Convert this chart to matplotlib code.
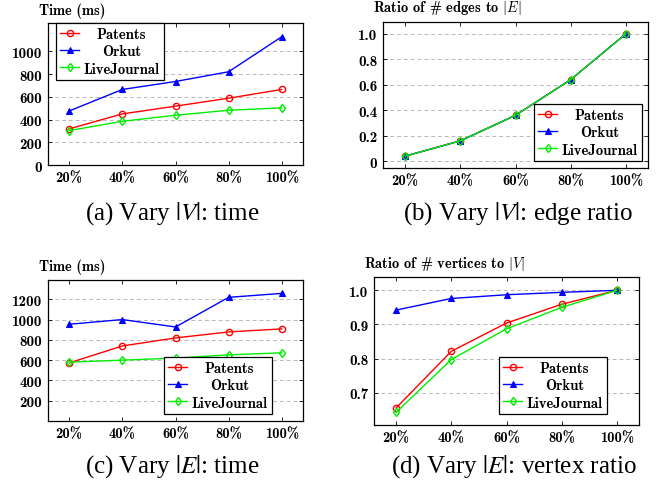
import matplotlib
matplotlib.use("Agg")
import matplotlib.pyplot as plt

# ---- data ----
x_pct = [20, 40, 60, 80, 100]
x_labels = ["20%", "40%", "60%", "80%", "100%"]
series_names = ["Patents", "Orkut", "LiveJournal"]

# (a) vary |V|: time (ms)
a_patents = [318, 450, 518, 588, 665]
a_orkut = [476, 665, 735, 821, 1129]
a_lj = [303, 385, 438, 482, 503]

# (b) vary |V|: edge ratio
b_patents = [0.04, 0.16, 0.36, 0.64, 1.0]
b_orkut = [0.04, 0.16, 0.36, 0.64, 1.0]
b_lj = [0.04, 0.16, 0.36, 0.64, 1.0]

# (c) vary |E|: time (ms)
c_patents = [573, 740, 819, 878, 908]
c_orkut = [954, 1000, 927, 1219, 1258]
c_lj = [580, 600, 620, 652, 672]

# (d) vary |E|: vertex ratio
d_patents = [0.655, 0.821, 0.904, 0.959, 1.0]
d_orkut = [0.942, 0.976, 0.987, 0.994, 1.0]
d_lj = [0.642, 0.797, 0.887, 0.950, 1.0]

W, H = 664, 489
fig = plt.figure(figsize=(W / 100, H / 100), dpi=100)

TICKFONT = "cmb10"
styles = [
    dict(color="#ff0000", marker="o", mfc="none", ms=4.5, mew=1.0),
    dict(color="#0000ff", marker="^", mfc="#0000ff", ms=4.5, mew=0.8),
    dict(color="#00ee00", marker="d", mfc="none", ms=4.5, mew=1.0),
]
legends = []


def make_axes(l, r, t, b):
    return fig.add_axes([l / W, 1 - b / H, (r - l) / W, (b - t) / H])


def panel(ax, ys, ylim, yticks, ylabels, title, title_xy, leg_anchor, caption, cap_xy):
    for y, name, st in zip(ys, series_names, styles):
        ax.plot(x_pct, y, lw=1.0, label=name, **st)
    ax.set_xlim(12, 108)
    ax.set_ylim(*ylim)
    ax.set_xticks(x_pct)
    ax.set_xticklabels(x_labels, fontfamily=TICKFONT, fontsize=10.5)
    ax.set_yticks(yticks)
    ax.set_yticklabels(ylabels, fontfamily=TICKFONT, fontsize=10.8)
    ax.tick_params(direction="in", length=3, width=0.6, top=True, right=True, pad=4)
    ax.yaxis.grid(True, linestyle=(0, (4, 3)), color="#b8b8b8", lw=0.7)
    ax.set_axisbelow(True)
    for sp in ax.spines.values():
        sp.set_linewidth(0.9)
    fig.text(title_xy[0] / W, 1 - title_xy[1] / H, title, fontfamily=TICKFONT,
             fontsize=10.4, math_fontfamily="cm", ha="left", va="center")
    leg = ax.legend(loc="lower right", bbox_to_anchor=(leg_anchor[0] / W, 1 - leg_anchor[1] / H),
                    bbox_transform=fig.transFigure, fancybox=False, edgecolor="black",
                    framealpha=1, borderpad=0.3, handlelength=1.3, handletextpad=0.3,
                    labelspacing=0.22, borderaxespad=0, prop={"family": TICKFONT, "size": 10.6})
    leg.get_frame().set_linewidth(0.9)
    legends.append(leg)
    fig.text(cap_xy[0] / W, 1 - cap_xy[1] / H, caption, fontfamily="Liberation Serif",
             fontsize=18, math_fontfamily="stix", ha="center", va="center")


ax_a = make_axes(48, 303, 24, 166)
panel(ax_a, [a_patents, a_orkut, a_lj], (0, 1250), [0, 200, 400, 600, 800, 1000],
      ["0", "200", "400", "600", "800", "1000"], "Time (ms)", (39, 11), (164, 81),
      r"(a) Vary $|V|$: time", (172, 214))

ax_b = make_axes(383, 648, 23, 169)
panel(ax_b, [b_patents, b_orkut, b_lj], (-0.053, 1.092), [0, 0.2, 0.4, 0.6, 0.8, 1.0],
      ["0", "0.2", "0.4", "0.6", "0.8", "1.0"], r"Ratio of # edges to $|E|$", (373, 8),
      (642, 162), r"(b) Vary $|V|$: edge ratio", (518, 214))

ax_c = make_axes(48, 303, 281, 422)
panel(ax_c, [c_patents, c_orkut, c_lj], (0, 1390), [200, 400, 600, 800, 1000, 1200],
      ["200", "400", "600", "800", "1000", "1200"], "Time (ms)", (39, 267), (272, 415),
      r"(c) Vary $|E|$: time", (172, 467))

ax_d = make_axes(374, 639, 278, 426)
panel(ax_d, [d_patents, d_orkut, d_lj], (0.605, 1.039), [0.7, 0.8, 0.9, 1.0],
      ["0.7", "0.8", "0.9", "1.0"], r"Ratio of # vertices to $|V|$", (364, 264),
      (607, 415), r"(d) Vary $|E|$: vertex ratio", (514, 467))

# centre legend labels like pgfplots does (shift narrower labels right by half the gap)
renderer = fig.canvas.get_renderer()
for leg in legends:
    texts = leg.get_texts()
    widths = [t.get_window_extent(renderer).width for t in texts]
    widest = max(widths)
    for t, w in zip(texts, widths):
        t.set_position(((widest - w) / 2, 0))

fig.savefig("out.png", dpi=100)
